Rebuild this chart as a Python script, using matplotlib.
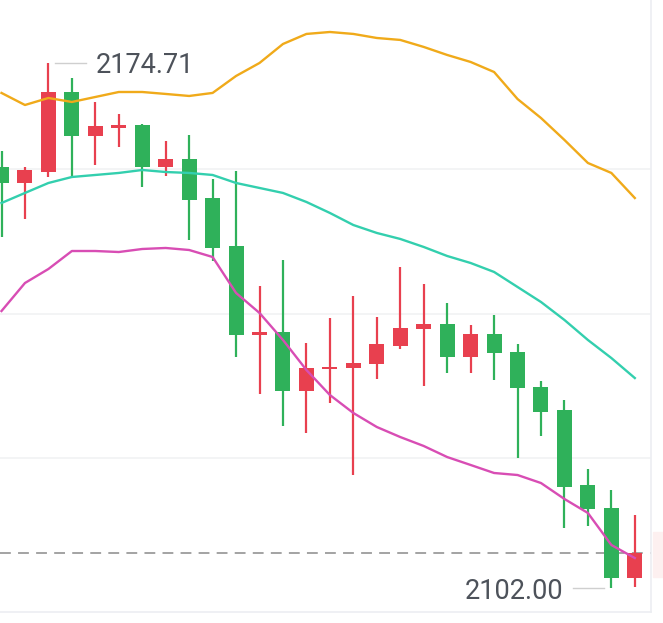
import matplotlib
matplotlib.use('Agg')
import matplotlib.pyplot as plt
from matplotlib.patches import Rectangle
import numpy as np

# K线数据 (开, 高, 低, 收)
opens = [2160.31, 2158.09, 2159.61, 2170.69, 2164.60, 2165.71, 2166.12, 2160.31,
         2161.41, 2156.01, 2149.37, 2137.04, 2137.45, 2129.28, 2132.33, 2132.47,
         2133.02, 2135.52, 2137.87, 2138.56, 2133.99, 2137.18, 2134.69, 2129.84,
         2126.65, 2116.27, 2113.08, 2103.39]
highs = [2162.52, 2160.31, 2174.71, 2172.63, 2169.31, 2167.65, 2166.20, 2163.91,
         2164.74, 2158.64, 2159.75, 2143.83, 2147.43, 2135.93, 2139.39, 2142.44,
         2139.53, 2146.46, 2144.10, 2141.47, 2138.42, 2139.81, 2135.79, 2130.67,
         2128.04, 2118.48, 2115.57, 2112.11]
lows = [2150.61, 2153.10, 2158.92, 2158.92, 2160.58, 2163.08, 2157.54, 2159.06,
        2150.20, 2147.29, 2133.99, 2128.87, 2124.44, 2123.47, 2127.62, 2117.65,
        2130.95, 2135.10, 2129.98, 2131.78, 2131.78, 2130.81, 2120.00, 2123.05,
        2110.31, 2110.59, 2102.00, 2102.14]
closes = [2158.09, 2159.89, 2170.69, 2164.60, 2165.98, 2166.12, 2160.31, 2161.41,
          2155.74, 2149.09, 2137.04, 2137.45, 2129.28, 2132.47, 2132.61, 2133.16,
          2135.79, 2138.01, 2138.56, 2133.99, 2137.18, 2134.55, 2129.70, 2126.38,
          2115.99, 2112.94, 2103.39, 2106.85]

# 布林带
boll_upper = [2170.56, 2168.89, 2169.86, 2169.31, 2170.00, 2170.69, 2170.69, 2170.42,
              2170.14, 2170.56, 2172.91, 2174.71, 2177.34, 2178.73, 2179.00, 2178.73,
              2178.17, 2177.90, 2176.93, 2175.82, 2174.85, 2173.46, 2169.72, 2167.09,
              2164.05, 2160.86, 2159.48, 2156.01]
boll_mid = [2155.32, 2156.71, 2158.09, 2158.92, 2159.20, 2159.48, 2159.89, 2159.61,
            2159.48, 2159.20, 2158.09, 2157.40, 2156.71, 2155.46, 2153.94, 2152.27,
            2151.17, 2150.34, 2149.23, 2147.98, 2147.01, 2145.77, 2143.69, 2141.61,
            2139.12, 2136.35, 2133.85, 2131.08]
boll_lower = [2140.36, 2144.24, 2146.18, 2148.67, 2148.67, 2148.53, 2148.95, 2149.09,
              2148.81, 2147.84, 2142.86, 2140.09, 2136.35, 2132.19, 2128.73, 2126.24,
              2124.30, 2122.91, 2121.67, 2120.14, 2119.04, 2117.93, 2117.65, 2116.54,
              2114.33, 2112.39, 2107.96, 2106.15]

grid_levels = [2160, 2140, 2120]
high_label = '2174.71'
low_label = '2102.00'

fig = plt.figure(figsize=(6.63, 6.23), dpi=100)
fig.patch.set_facecolor('white')
ax = fig.add_axes([0, 11 / 623, 651 / 663, 612 / 623])

x = np.arange(len(opens))
o = np.array(opens)
c = np.array(closes)
red = '#e8404f'
green = '#2fb15a'
colors = [red if cc >= oo else green for oo, cc in zip(o, c)]

body_bottom = np.minimum(o, c)
body_h = np.maximum(np.abs(c - o), 0.3)

for g in grid_levels:
    ax.axhline(g, color='#f1f2f4', lw=1.2, zorder=0)

ax.vlines(x, lows, highs, colors=colors, lw=1.6, zorder=2)
ax.bar(x, body_h, bottom=body_bottom, width=0.64, color=colors, linewidth=0, zorder=3)

ax.plot(x, boll_upper, color='#f0aa1a', lw=1.7, zorder=4)
ax.plot(x, boll_mid, color='#33cfae', lw=1.7, zorder=4)
ax.plot(x, boll_lower, color='#d84db4', lw=1.7, zorder=4)

# 最新价虚线
ax.axhline(closes[-1], color='#9c9c9c', lw=1.3, ls=(0, (6, 4)), zorder=1)

# 最高/最低标注
hi_i = int(np.argmax(highs))
lo_i = int(np.argmin(lows))
ax.plot([hi_i + 0.26, hi_i + 1.62], [highs[hi_i]] * 2, color='#cfcfcf', lw=1, zorder=5)
ax.text(hi_i + 2.0, highs[hi_i], high_label, ha='left', va='center_baseline',
        fontsize=19.5, family='Roboto', color='#4d525a', zorder=6)
ax.plot([lo_i - 1.62, lo_i - 0.30], [lows[lo_i]] * 2, color='#cfcfcf', lw=1, zorder=5)
ax.text(lo_i - 2.05, lows[lo_i], low_label, ha='right', va='center_baseline',
        fontsize=19.5, family='Roboto', color='#4d525a', zorder=6)

ax.set_xlim(-0.064, 27.69)
ax.set_ylim(2098.68, 2183.43)
ax.set_xticks([])
ax.set_yticks([])
for s in ['top', 'left']:
    ax.spines[s].set_visible(False)
for s in ['bottom', 'right']:
    ax.spines[s].set_color('#eceef2')
    ax.spines[s].set_linewidth(1.2)

# 右侧被裁掉的价格标签
fig.patches.append(Rectangle((653 / 663, (623 - 577) / 623), 10 / 663, 45 / 623,
                             transform=fig.transFigure, color='#fdf0f0', zorder=0))

fig.savefig('out.png', dpi=100, facecolor='white')
